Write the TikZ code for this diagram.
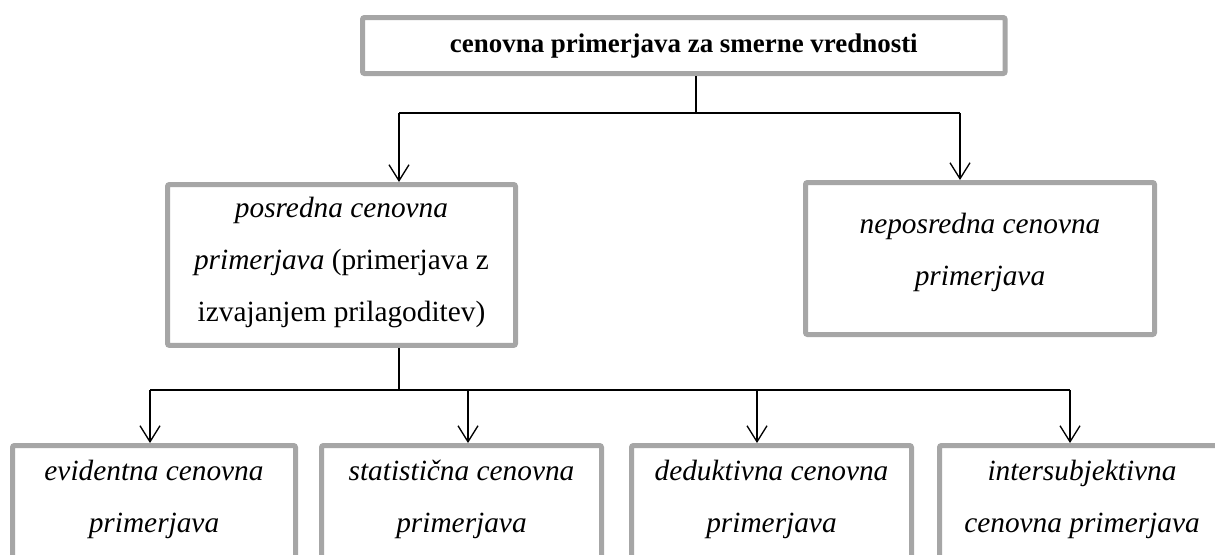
\documentclass[tikz,border=0pt]{standalone}
\usepackage{fontspec}
\setmainfont{Liberation Serif}
\usetikzlibrary{arrows.meta}
\definecolor{bord}{RGB}{166,166,166}
\tikzset{
  boxbase/.style={draw=bord, line width=3.75pt, rounded corners=1.5pt, inner sep=0pt,
    anchor=north west, align=flush center, fill=white,
    font=\fontsize{22}{39}\selectfont,
    execute at begin node={\setlength{\baselineskip}{39pt}}},
  conn/.style={line width=1pt, black},
  arr/.style={conn, -{Straight Barb[length=12pt, width=15pt, line width=1pt]}}
}
\begin{document}
\begin{tikzpicture}[x=0.75pt, y=-0.75pt]
\useasboundingbox (0,0) rectangle (1215,554);
\clip (0,0) rectangle (1215,554);
% top
\node[boxbase, font=\fontsize{20.2}{36}\selectfont\bfseries, text width=482pt, text height=26.6pt, text depth=15.4pt] (top) at (360,15) {cenovna primerjava za smerne vrednosti};
% middle
\node[boxbase, text width=261pt, text height=25.1pt, text depth=95.6pt] (lbox) at (165,182)
  {\textit{posredna cenovna}\\ \textit{primerjava} (primerjava z\\ izvajanjem prilagoditev)};
\node[boxbase, text width=261.75pt, text height=37.9pt, text depth=76.1pt] (rbox) at (803,180)
  {\textit{neposredna cenovna}\\ \textit{primerjava}};
% bottom
\node[boxbase, text width=212.25pt, text height=25.9pt, text depth=67.5pt] (b1) at (10,443)
  {\textit{evidentna cenovna}\\ \textit{primerjava}};
\node[boxbase, text width=210pt, text height=25.9pt, text depth=67.5pt] (b2) at (319,443)
  {\textit{statistična cenovna}\\ \textit{primerjava}};
\node[boxbase, text width=210pt, text height=25.9pt, text depth=67.5pt] (b3) at (629,443)
  {\textit{deduktivna cenovna}\\ \textit{primerjava}};
\node[boxbase, text width=213.75pt, text height=25.9pt, text depth=67.5pt] (b4) at (937,443)
  {\textit{intersubjektivna}\\ \textit{cenovna primerjava}};
% connectors top
\coordinate (j1) at (696,113);
\coordinate (jl) at (399,113);
\coordinate (jr) at (960,113);
\draw[conn] (top.south -| j1) -- (j1);
\draw[conn] (jl) -- (jr);
\draw[arr] (jl) -- (jl |- lbox.north);
\draw[arr] (jr) -- (jr |- rbox.north);
% connectors bottom
\coordinate (k1) at (399,390);
\coordinate (ka) at (150,390);
\coordinate (kb) at (468,390);
\coordinate (kc) at (757,390);
\coordinate (kd) at (1070,390);
\draw[conn] (lbox.south -| k1) -- (k1);
\draw[conn] (ka) -- (kd);
\draw[arr] (ka) -- (ka |- b1.north);
\draw[arr] (kb) -- (kb |- b2.north);
\draw[arr] (kc) -- (kc |- b3.north);
\draw[arr] (kd) -- (kd |- b4.north);
\end{tikzpicture}
\end{document}
